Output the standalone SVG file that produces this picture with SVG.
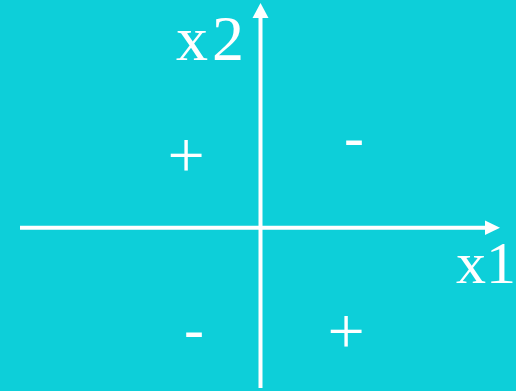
<svg xmlns="http://www.w3.org/2000/svg" width="516" height="391" viewBox="0 0 516 391">
<style>
.lbl{font-family:"Liberation Serif","Times New Roman",serif;fill:#ffffff}
.sgn{font-family:"Liberation Serif","Times New Roman",serif;fill:#ffffff;text-anchor:middle}
.ax{stroke:#ffffff;stroke-width:4;fill:none}
</style>
<rect x="0" y="0" width="516" height="391" fill="#0dcfd9"/>
<g id="axes">
<line class="ax" x1="260.5" y1="388" x2="260.5" y2="16"/>
<polygon points="260.5,3 268.5,18 252.5,18" fill="#ffffff"/>
<line class="ax" x1="20" y1="227.7" x2="487" y2="227.7"/>
<polygon points="500,227.7 485,220.5 485,235" fill="#ffffff"/>
</g>
<g id="label-x2"><text class="lbl" x="176" y="60" font-size="64" letter-spacing="4">x2</text></g>
<g id="label-x1"><text class="lbl" x="456" y="283" font-size="60">x1</text></g>
<g id="q2"><text class="sgn" x="186" y="177" font-size="66">+</text></g>
<g id="q1"><text class="sgn" x="354" y="157" font-size="60">-</text></g>
<g id="q3"><text class="sgn" x="194" y="349" font-size="60">-</text></g>
<g id="q4"><text class="sgn" x="346" y="353" font-size="66">+</text></g>
</svg>
